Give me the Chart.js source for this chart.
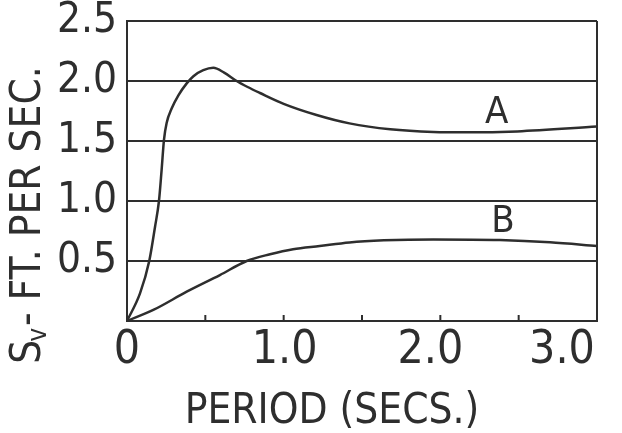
<!DOCTYPE html>
<html>
<head>
<meta charset="utf-8">
<script src="https://cdn.jsdelivr.net/npm/chart.js@4.4.1/dist/chart.umd.min.js"></script>
<style>
  html, body { margin: 0; padding: 0; background: #fff; }
</style>
</head>
<body>
<canvas id="myChart" width="622" height="433"></canvas>
<script>
// curve A
const periodA = [0, 0.083, 0.142, 0.179, 0.204, 0.221, 0.236, 0.253, 0.285, 0.328, 0.381, 0.424, 0.487, 0.551, 0.62, 0.70, 0.77, 0.849, 1.0, 1.21, 1.42, 1.68, 1.955, 2.17, 2.49, 3.0];
const velA = [0, 0.23, 0.5, 0.786, 1.0, 1.26, 1.51, 1.65, 1.77, 1.88, 1.98, 2.04, 2.09, 2.11, 2.07, 2.0, 1.95, 1.9, 1.81, 1.717, 1.647, 1.597, 1.575, 1.572, 1.58, 1.62];
// curve B
const periodB = [0, 0.168, 0.381, 0.593, 0.764, 0.913, 1.06, 1.23, 1.42, 1.64, 1.955, 2.38, 2.7, 3.0];
const velB = [0, 0.092, 0.244, 0.383, 0.5, 0.556, 0.598, 0.625, 0.655, 0.672, 0.68, 0.675, 0.656, 0.625];

const xTickValues = [0, 1, 2, 3];
const xTickLabels = ["0", "1.0", "2.0", "3.0"];
const curveNames = ["A", "B"];
const namePos = [[2.36, 1.73], [2.4, 0.82]];

const ink = "#2e2e2e";
const fam = '"DejaVu Sans Condensed", "DejaVu Sans", sans-serif';

function toPoints(xs, ys) {
  let pts = [];
  for (let i = 0; i < xs.length; i++) {
    pts.push({ x: xs[i], y: ys[i] });
  }
  return pts;
}

const handLettering = {
  id: "handLettering",
  afterDraw(chart) {
    const { ctx, chartArea, scales: { x, y } } = chart;
    ctx.save();
    // little ticks pointing up from the bottom line
    ctx.strokeStyle = ink;
    ctx.lineWidth = 2;
    for (let v = 0.5; v < 3; v += 0.5) {
      const px = x.getPixelForValue(v);
      ctx.beginPath();
      ctx.moveTo(px, chartArea.bottom);
      ctx.lineTo(px, chartArea.bottom - 6);
      ctx.stroke();
    }

    ctx.fillStyle = ink;
    ctx.textAlign = "center";
    ctx.textBaseline = "middle";

    // x tick labels, nudged like the hand lettering
    const nudge = [0, 1, -10, -35];
    ctx.font = "46px " + fam;
    xTickLabels.forEach((t, i) => {
      ctx.fillText(t, x.getPixelForValue(xTickValues[i]) + nudge[i], chartArea.bottom + 30);
    });

    // curve names
    ctx.font = "38px " + fam;
    curveNames.forEach((n, i) => {
      ctx.fillText(n, x.getPixelForValue(namePos[i][0]), y.getPixelForValue(namePos[i][1]));
    });

    // x axis title
    ctx.font = "42px " + fam;
    ctx.fillText("PERIOD (SECS.)", 332, 412);

    // y axis title, rotated, with subscript v
    ctx.translate(29, 215);
    ctx.rotate(-Math.PI / 2);
    ctx.textAlign = "left";
    ctx.textBaseline = "middle";
    const big = "42px " + fam;
    const small = "26px " + fam;
    ctx.font = big;
    const wS = ctx.measureText("S").width;
    const rest = "- FT. PER SEC.";
    const wRest = ctx.measureText(rest).width;
    ctx.font = small;
    const wV = ctx.measureText("v").width;
    let start = -(wS + wV + wRest) / 2;
    ctx.font = big;
    ctx.fillText("S", start, 0);
    ctx.font = small;
    ctx.fillText("v", start + wS - 2, 10);
    ctx.font = big;
    ctx.fillText(rest, start + wS + wV, 0);
    ctx.restore();
  },
};

const data = {
  datasets: [
    {
      label: "A",
      data: toPoints(periodA, velA),
      borderColor: ink,
      borderWidth: 2.5,
      pointRadius: 0,
      cubicInterpolationMode: "monotone",
      fill: false,
    },
    {
      label: "B",
      data: toPoints(periodB, velB),
      borderColor: ink,
      borderWidth: 2.5,
      pointRadius: 0,
      cubicInterpolationMode: "monotone",
      fill: false,
    },
  ],
};

const config = {
  type: "line",
  data: data,
  options: {
    responsive: false,
    animation: false,
    layout: { padding: { top: 21, right: 25, left: 0, bottom: 0 } },
    plugins: {
      legend: { display: false },
      tooltip: { enabled: false },
    },
    scales: {
      x: {
        type: "linear",
        min: 0,
        max: 3,
        ticks: { display: false, stepSize: 0.5 },
        grid: {
          drawTicks: false,
          lineWidth: 2,
          color: (c) => (c.tick && (c.tick.value === 0 || c.tick.value === 3) ? ink : "rgba(0,0,0,0)"),
        },
        border: { display: true, color: ink, width: 2 },
        afterFit: (s) => { s.height = 112; s.paddingLeft = 0; s.paddingRight = 0; },
      },
      y: {
        min: 0,
        max: 2.5,
        ticks: {
          stepSize: 0.5,
          padding: 10,
          color: ink,
          font: { family: fam, size: 42 },
          callback: (v) => (v === 0 ? "" : v.toFixed(1)),
        },
        grid: { drawTicks: false, lineWidth: 2, color: ink },
        border: { display: true, color: ink, width: 2 },
        afterFit: (s) => { s.width = 127; s.paddingTop = 0; s.paddingBottom = 0; },
      },
    },
  },
  plugins: [handLettering],
};

const myChart = new Chart(document.getElementById("myChart"), config);
</script>
</body>
</html>
